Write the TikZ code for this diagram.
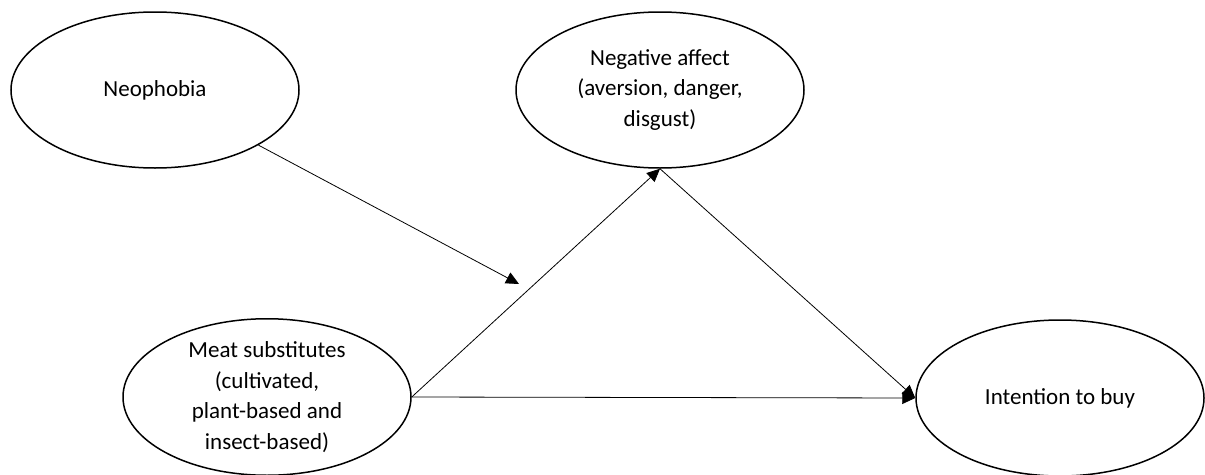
\documentclass[tikz,border=0pt]{standalone}
\usepackage{fontspec}
\setmainfont{Carlito}
\usetikzlibrary{shapes.geometric,arrows.meta}
\begin{document}
\begin{tikzpicture}[x=1pt,y=-1pt,
  oval/.style={draw,line width=1.5pt,ellipse,minimum width=288pt,minimum height=156pt,inner sep=0pt,align=center,font=\fontsize{23}{30.5}\selectfont},
  link/.style={draw,line width=0.8pt,-{Triangle[length=13pt,width=12pt]}}]
\useasboundingbox (0,0) rectangle (1205,474);
\node[oval] (neo) at (155,90) {Neophobia};
\node[oval] (neg) at (660,90) {Negative affect\\(aversion, danger,\\disgust)};
\node[oval] (meat) at (267,397) {Meat substitutes\\(cultivated,\\plant-based and\\insect-based)};
\node[oval] (int) at (1060,398) {Intention to buy};
\coordinate (mod) at (519,284);
\draw[link] (neo) -- (mod);
\draw[link] (meat.east) -- (neg.south);
\draw[link] (neg.south) -- (int.west);
\draw[link] (meat.east) -- (int.west);
\end{tikzpicture}
\end{document}
